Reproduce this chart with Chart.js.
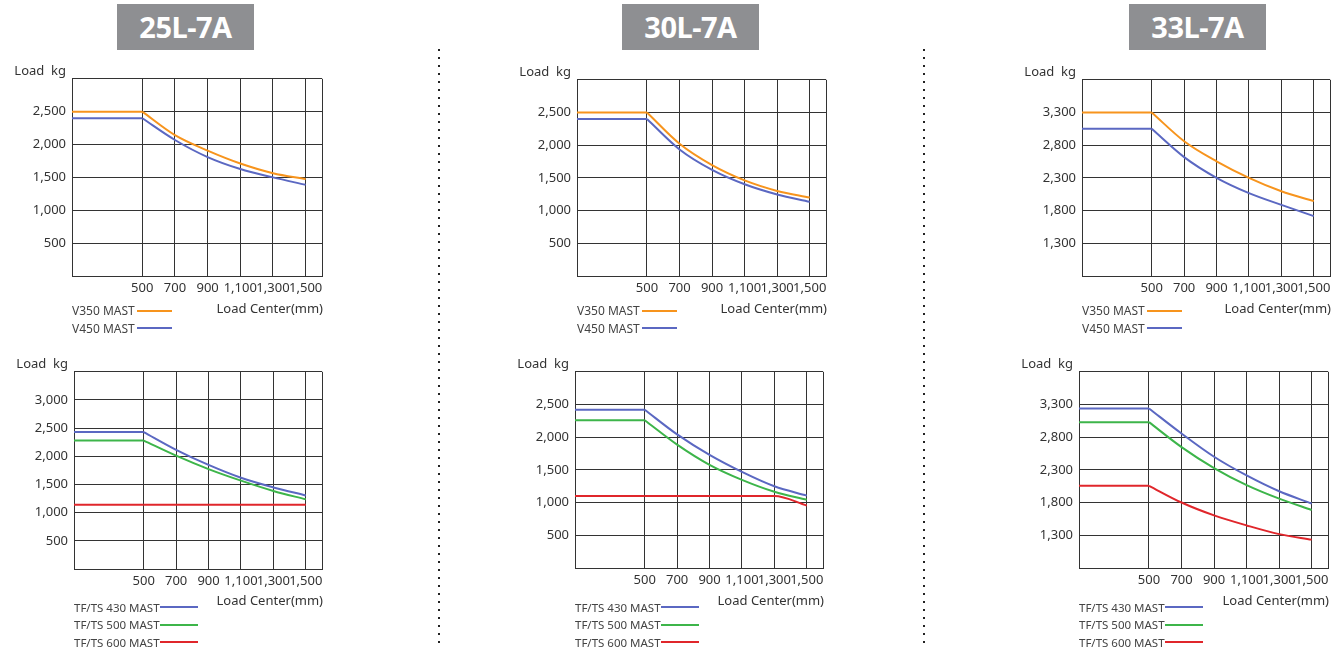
<!DOCTYPE html>
<html>
<head>
<meta charset="utf-8">
<script src="https://cdn.jsdelivr.net/npm/chart.js@4"></script>
<style>
  html, body { margin:0; padding:0; background:#fff; }
  body { width:1340px; height:649px; position:relative; overflow:hidden; font-family:'Noto Sans', 'Open Sans', sans-serif; }
  .title { position:absolute; width:137px; height:46px; background:#8e8f92; color:#fff; font-weight:bold; font-size:29px; line-height:46px; text-align:center; letter-spacing:-0.5px; }
  .sep { position:absolute; width:2px; background:repeating-linear-gradient(to bottom, #222 0 2px, transparent 2px 8px); }
  .lbl { position:absolute; font-size:13px; color:#333; white-space:nowrap; line-height:16px; }
  .legend { position:absolute; font-size:12px; color:#444; white-space:nowrap; }
  .legend .row { display:flex; align-items:center; height:17.5px; }
  .legend .tx { white-space:nowrap; }
  .legend .ln { height:2px; flex:none; }
</style>
</head>
<body>
<script>
// ---- Data ----
const loadCenters = [500, 700, 900, 1100, 1300, 1500];

const yTicks25Top = [500, 1000, 1500, 2000, 2500];
const yTicks25Bot = [500, 1000, 1500, 2000, 2500, 3000];
const yTicks30 = [500, 1000, 1500, 2000, 2500];
const yTicks33 = [1300, 1800, 2300, 2800, 3300];

const titles = ['25L-7A', '30L-7A', '33L-7A'];

// 25L-7A
const l25_v350 = [2500, 2142, 1907, 1711, 1564, 1475];
const l25_v450 = [2400, 2069, 1809, 1627, 1500, 1387];
const l25_tf430 = [2430, 2115, 1847, 1619, 1448, 1305];
const l25_tf500 = [2280, 2012, 1773, 1568, 1385, 1237];
const l25_tf600 = [1140, 1140, 1140, 1140, 1140, 1140];
// 30L-7A
const l30_v350 = [2500, 2022, 1696, 1462, 1301, 1199];
const l30_v450 = [2400, 1935, 1623, 1403, 1247, 1135];
const l30_tf430 = [2420, 2043, 1730, 1470, 1250, 1107];
const l30_tf500 = [2260, 1887, 1578, 1348, 1166, 1044];
const l30_tf600 = [1100, 1100, 1100, 1100, 1100, 955];
// 33L-7A
const l33_v350 = [3300, 2861, 2554, 2301, 2096, 1945];
const l33_v450 = [3050, 2618, 2301, 2067, 1887, 1716];
const l33_tf430 = [3240, 2856, 2501, 2215, 1973, 1786];
const l33_tf500 = [3030, 2649, 2328, 2067, 1860, 1687];
const l33_tf600 = [2057, 1801, 1604, 1451, 1318, 1234];

// ---- Styling / layout ----
const ORANGE = '#f7941d', BLUE = '#5b68c2', GREEN = '#3db54a', RED = '#e0262b';
const X_MIN = 70, X_MAX = 1600;

const charts = [
  { plot:[72, 71, 322, 276], yMin:0, yMax:3000, yTicks:yTicks25Top, top:true,
    series:[{label:'V350 MAST', values:l25_v350, color:ORANGE},{label:'V450 MAST', values:l25_v450, color:BLUE}] },
  { plot:[74, 364, 322, 569], yMin:0, yMax:3500, yTicks:yTicks25Bot, top:false,
    series:[{label:'TF/TS 430 MAST', values:l25_tf430, color:BLUE},{label:'TF/TS 500 MAST', values:l25_tf500, color:GREEN},{label:'TF/TS 600 MAST', values:l25_tf600, color:RED}] },
  { plot:[577, 72, 826, 276], yMin:0, yMax:3000, yTicks:yTicks30, top:true,
    series:[{label:'V350 MAST', values:l30_v350, color:ORANGE},{label:'V450 MAST', values:l30_v450, color:BLUE}] },
  { plot:[575, 364, 823, 568], yMin:0, yMax:3000, yTicks:yTicks30, top:false,
    series:[{label:'TF/TS 430 MAST', values:l30_tf430, color:BLUE},{label:'TF/TS 500 MAST', values:l30_tf500, color:GREEN},{label:'TF/TS 600 MAST', values:l30_tf600, color:RED}] },
  { plot:[1082, 72, 1330, 276], yMin:800, yMax:3800, yTicks:yTicks33, top:true,
    series:[{label:'V350 MAST', values:l33_v350, color:ORANGE},{label:'V450 MAST', values:l33_v450, color:BLUE}] },
  { plot:[1079, 364, 1328, 568], yMin:800, yMax:3800, yTicks:yTicks33, top:false,
    series:[{label:'TF/TS 430 MAST', values:l33_tf430, color:BLUE},{label:'TF/TS 500 MAST', values:l33_tf500, color:GREEN},{label:'TF/TS 600 MAST', values:l33_tf600, color:RED}] },
];

const titleLefts = [117, 622, 1129];
const sepLefts = [438, 923];

function el(cls, css, html) {
  const d = document.createElement('div');
  d.className = cls; d.style.cssText = css; d.innerHTML = html || '';
  document.body.appendChild(d); return d;
}

titles.forEach((t, i) => el('title', `left:${titleLefts[i]}px;top:4px;`, t));
sepLefts.forEach(x => el('sep', `left:${x}px;top:49px;height:600px;`));

const fmt = v => v.toLocaleString('en-US');
const FONT = { family:"'Noto Sans', 'Open Sans', sans-serif", size:13 };

charts.forEach(cfg => {
  const [L, T, R, B] = cfg.plot;
  const padL = 70, padT = 6, padR = 6, padB = 26;
  const w = R - L + padL + padR, h = B - T + padT + padB;
  const canvas = document.createElement('canvas');
  canvas.width = w; canvas.height = h;
  canvas.style.cssText = `position:absolute;left:${L - padL}px;top:${T - padT}px;width:${w}px;height:${h}px;`;
  document.body.appendChild(canvas);

  const datasets = [];
  cfg.series.forEach(s => {
    datasets.push({ data:[{x:X_MIN, y:s.values[0]}, {x:loadCenters[0], y:s.values[0]}],
      borderColor:s.color, borderWidth:2, pointRadius:0, tension:0 });
    datasets.push({ data:loadCenters.map((x, i) => ({x, y:s.values[i]})),
      borderColor:s.color, borderWidth:2, pointRadius:0, cubicInterpolationMode:'monotone' });
  });

  const yTickSet = [cfg.yMin, ...cfg.yTicks, cfg.yMax];
  new Chart(canvas, {
    type:'line',
    data:{ datasets },
    options:{
      responsive:false, animation:false, events:[],
      layout:{ padding:{ top:padT, right:padR, left:0, bottom:0 } },
      plugins:{ legend:{display:false}, tooltip:{enabled:false} },
      scales:{
        x:{ type:'linear', min:X_MIN, max:X_MAX,
            afterBuildTicks:s => { s.ticks = [X_MIN, ...loadCenters, X_MAX].map(v => ({value:v})); },
            afterFit:s => { s.height = padB; },
            grid:{ color:'#333', lineWidth:1, drawTicks:false },
            border:{ color:'#333', width:1 },
            ticks:{ autoSkip:false, maxRotation:0, minRotation:0, padding:4, color:'#333', font:FONT,
                    callback:v => loadCenters.includes(v) ? fmt(v) : '' } },
        y:{ type:'linear', min:cfg.yMin, max:cfg.yMax,
            afterBuildTicks:s => { s.ticks = yTickSet.map(v => ({value:v})); },
            afterFit:s => { s.width = padL; },
            grid:{ color:'#333', lineWidth:1, drawTicks:false },
            border:{ color:'#333', width:1 },
            ticks:{ autoSkip:false, padding:6, color:'#333', font:FONT,
                    callback:v => cfg.yTicks.includes(v) ? fmt(v) : '' } }
      }
    }
  });

  // axis titles
  el('lbl', `left:${L - 120}px;width:${114}px;text-align:right;top:${T - 9}px;`, 'Load&nbsp;&nbsp;kg');
  const cy = cfg.top ? 307.5 : 600;
  el('lbl', `left:${R - 200}px;width:${201}px;text-align:right;top:${cy - 8}px;`, 'Load Center(mm)');

  // legend
  const rows = cfg.series.map(s => cfg.top
    ? `<div class="row"><span class="tx" style="width:65px">${s.label}</span><span class="ln" style="width:35px;background:${s.color}"></span></div>`
    : `<div class="row"><span class="tx" style="width:86px;font-size:11.5px">${s.label}</span><span class="ln" style="width:38px;background:${s.color}"></span></div>`).join('');
  const ly = cfg.top ? 310.5 - 8.75 : 607 - 8.75;
  el('legend', `left:${L}px;top:${ly}px;`, rows);
});
</script>
</body>
</html>
